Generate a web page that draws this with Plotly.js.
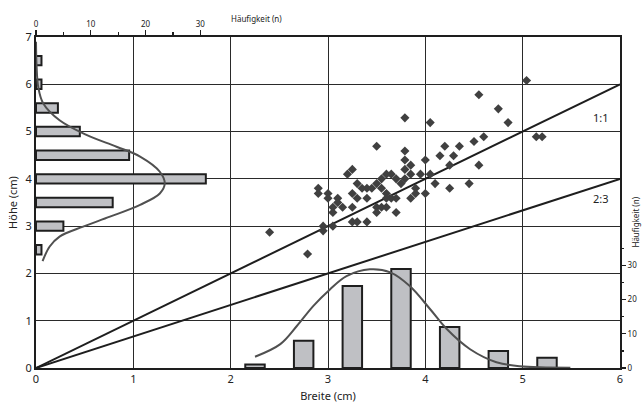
<!DOCTYPE html>
<html>
<head>
<meta charset="utf-8">
<script src="https://cdn.plot.ly/plotly-3.0.1.min.js"></script>
<style>html,body{margin:0;padding:0;background:#fff}#chart{width:643px;height:406px}</style>
</head>
<body>
<div id="chart"></div>
<script>
// Scatter: Breite (x, cm) and Höhe (y, cm)
const breite = [5.04,4.55,4.75,4.85,3.79,4.05,5.14,5.20,3.50,3.79,3.79,3.85,3.79,4.00,4.15,4.20,4.35,4.29,4.50,4.60,4.55,4.25,4.05,3.95,3.85,4.10,4.25,4.45,4.00,3.90,3.90,3.85,3.79,3.75,3.70,3.65,3.60,3.55,3.50,3.55,3.60,3.60,3.65,3.70,3.50,3.55,3.60,3.50,3.70,3.45,3.40,3.35,3.30,3.25,3.30,3.40,3.20,3.25,3.25,3.15,3.10,3.10,3.05,3.05,3.00,3.00,2.90,2.90,3.25,3.30,3.40,2.95,2.95,3.05,2.79,2.40];
const hoehe  = [6.08,5.78,5.48,5.19,5.29,5.19,4.89,4.89,4.69,4.59,4.40,4.29,4.20,4.40,4.49,4.69,4.69,4.49,4.79,4.89,4.29,4.29,4.10,4.10,4.10,3.90,3.80,3.90,3.69,3.80,3.69,3.59,4.00,3.90,4.00,4.10,4.10,4.00,3.90,3.80,3.69,3.59,3.59,3.59,3.40,3.40,3.40,3.29,3.29,3.80,3.80,3.80,3.90,3.69,3.59,3.59,4.10,4.20,3.40,3.40,3.59,3.50,3.40,3.29,3.69,3.59,3.80,3.69,3.09,3.09,3.09,3.00,2.90,3.00,2.41,2.87];

// Histogram of Höhe (horizontal bars, top axis = Häufigkeit)
const hoeheBins   = [2.5,3.0,3.5,4.0,4.5,5.0,5.5,6.0,6.5];
const hoeheCounts = [1,5,14,31,17,8,4,1,1];
// Fitted curve for Höhe
const hoeheCurveY = [2.26,2.57,2.78,2.99,3.20,3.45,3.69,3.90,4.15,4.47,4.68,4.93,5.24,5.60,5.95,6.40,6.90];
const hoeheCurveN = [1.2,2.5,4.3,8.6,13.5,19.0,22.6,23.5,22.6,19.0,14.7,9.2,4.3,1.3,0.4,0.1,0.0];

// Histogram of Breite (vertical bars, right axis = Häufigkeit)
const breiteBins   = [2.25,2.75,3.25,3.75,4.25,4.75,5.25];
const breiteCounts = [1,8,24,29,12,5,3];
// Fitted curve for Breite
const breiteCurveX = [2.25,2.51,2.68,2.85,3.02,3.19,3.43,3.64,3.84,4.05,4.22,4.46,4.73,4.97,5.49];
const breiteCurveN = [3.3,7.0,12.3,18.2,23.0,26.9,28.9,28.0,24.0,17.2,11.4,5.5,1.7,0.5,0.1];

// Reference lines
const lineX = [0,6];
const line11 = [0,6];
const line23 = [0,4];

const dark = '#1e1e1e';
const barFill = '#bfc0c4';
const curveCol = '#505050';
const font = 'Noto Sans, Open Sans, sans-serif';

const traces = [
  {x: lineX, y: line11, mode:'lines', line:{color:dark,width:2}, xaxis:'x', yaxis:'y', hoverinfo:'skip'},
  {x: lineX, y: line23, mode:'lines', line:{color:dark,width:2}, xaxis:'x', yaxis:'y', hoverinfo:'skip'},
  {type:'bar', orientation:'h', y: hoeheBins, x: hoeheCounts, width:0.2, xaxis:'x2', yaxis:'y',
   marker:{color:barFill, line:{color:dark,width:2}}},
  {type:'bar', x: breiteBins, y: breiteCounts, width:0.2, xaxis:'x', yaxis:'y2',
   marker:{color:barFill, line:{color:dark,width:2}}},
  {x: hoeheCurveN, y: hoeheCurveY, mode:'lines', line:{color:curveCol,width:2,shape:'spline'}, xaxis:'x2', yaxis:'y'},
  {x: breiteCurveX, y: breiteCurveN, mode:'lines', line:{color:curveCol,width:2,shape:'spline'}, xaxis:'x', yaxis:'y2'},
  {x: breite, y: hoehe, mode:'markers', marker:{symbol:'diamond', size:7, color:'#404040'}, xaxis:'x', yaxis:'y'}
];

const layout = {
  width:643, height:406,
  margin:{l:36, r:23, t:37, b:38, pad:0},
  paper_bgcolor:'#fff', plot_bgcolor:'#fff',
  showlegend:false,
  barmode:'overlay',
  font:{family:font, size:11, color:'#222'},
  xaxis:{range:[0,6], dtick:1, tick0:0, showgrid:true, gridcolor:'#2a2a2a', gridwidth:1,
         zeroline:false, showline:true, linecolor:dark, linewidth:2, mirror:true,
         ticks:'', tickfont:{size:11}, 
         title:{text:'Breite (cm)', font:{size:11}, standoff:7}},
  yaxis:{range:[0,7], dtick:1, tick0:0, showgrid:true, gridcolor:'#2a2a2a', gridwidth:1,
         zeroline:false, showline:true, linecolor:dark, linewidth:2, mirror:true,
         ticks:'', tickfont:{size:11}, 
         title:{text:'Höhe (cm)', font:{size:11}, standoff:6}},
  xaxis2:{overlaying:'x', side:'top', range:[0,106.6], showgrid:false, zeroline:false, showline:false,
          tickmode:'array', tickvals:[0,10,20,30], ticktext:['0','10','20','30'],
          ticks:'outside', ticklen:6, tickwidth:1.2, tickcolor:dark, tickfont:{size:8},
          minor:{tickmode:'array', tickvals:[5,15,25], ticks:'outside', ticklen:4, tickwidth:1.2, tickcolor:dark}},
  yaxis2:{overlaying:'y', side:'right', range:[0,96.9], showgrid:false, zeroline:false, showline:false,
          tickmode:'array', tickvals:[0,10,20,30], ticktext:['0','10','20','30'],
          ticks:'outside', ticklen:5, tickwidth:1.2, tickcolor:dark, tickfont:{size:8},
          minor:{tickmode:'array', tickvals:[5,15,25,35], ticks:'outside', ticklen:3, tickwidth:1.2, tickcolor:dark}},
  annotations:[
    {text:'Häufigkeit (n)', xref:'paper', yref:'paper', x:0.33, y:1.057, xanchor:'left', yanchor:'middle',
     showarrow:false, font:{size:8}},
    {text:'Häufigkeit (n)', xref:'paper', yref:'paper', x:1.026, y:0.44, xanchor:'center', yanchor:'middle',
     textangle:-90, showarrow:false, font:{size:8}},
    {text:'1:1', xref:'x', yref:'y', x:5.80, y:5.29, showarrow:false, font:{size:11}},
    {text:'2:3', xref:'x', yref:'y', x:5.80, y:3.59, showarrow:false, font:{size:11}}
  ]
};

Plotly.newPlot('chart', traces, layout, {displayModeBar:false, staticPlot:true});
</script>
</body>
</html>
